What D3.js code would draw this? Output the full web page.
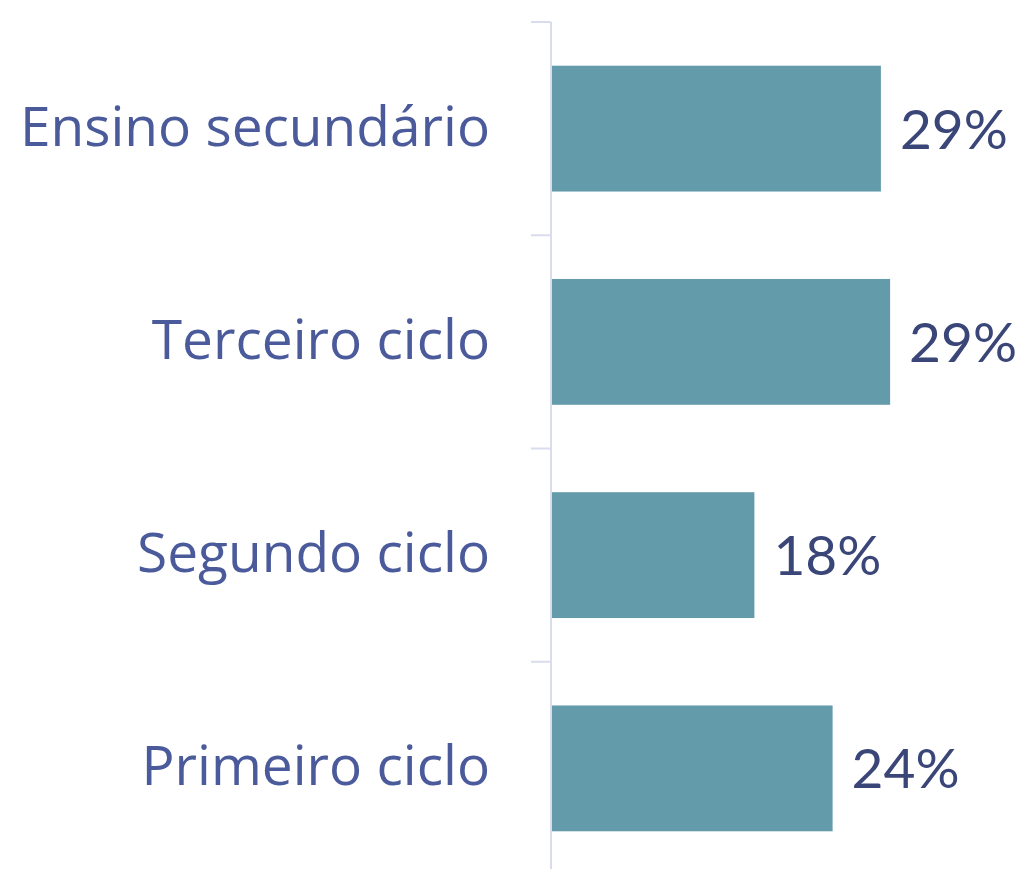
<!DOCTYPE html>
<html lang="pt">
  <head>
    <meta charset="UTF-8" />
    <title>Chart</title>
    <style>
      body { margin: 0; background: #fff; }
      text { font-family: Lato, "Open Sans", sans-serif; }
      text.cat { font-family: "Open Sans", sans-serif; }
    </style>
  </head>
  <body>
    <div id="app"></div>
    <script src="https://cdn.jsdelivr.net/npm/d3@7"></script>
    <script>
      // dados
      let categories = ["Ensino secundário", "Terceiro ciclo", "Segundo ciclo", "Primeiro ciclo"];
      let values = [0.286, 0.294, 0.176, 0.244];

      let width = 1022;
      let height = 869;

      const svg = d3.select("#app")
        .append("svg")
        .attr("width", width)
        .attr("height", height);

      let x = d3.scaleLinear().domain([0, 0.4]).range([552, 1012]);
      let y = d3.scaleBand()
        .domain(categories)
        .range([22, 875])
        .paddingInner(0.41)
        .paddingOuter(0.205);

      let axisX = 551;
      let bandTop = d => y(d) - y.paddingOuter() * y.step();

      // eixo vertical
      const axis = svg.append("g").attr("stroke", "#d9dbee").attr("stroke-width", 2);
      axis.append("line")
        .attr("x1", axisX).attr("x2", axisX)
        .attr("y1", y.range()[0]).attr("y2", y.range()[1]);
      axis.selectAll("line.tick")
        .data(categories)
        .enter()
        .append("line")
        .attr("class", "tick")
        .attr("x1", axisX - 20).attr("x2", axisX)
        .attr("y1", d => bandTop(d)).attr("y2", d => bandTop(d));

      // barras
      svg.selectAll("rect")
        .data(values)
        .enter()
        .append("rect")
        .attr("x", x(0))
        .attr("y", (d, i) => y(categories[i]))
        .attr("width", d => x(d) - x(0))
        .attr("height", y.bandwidth())
        .attr("fill", "#639bab");

      // rótulos das categorias
      svg.selectAll("text.cat")
        .data(categories)
        .enter()
        .append("text")
        .attr("class", "cat")
        .attr("x", 490)
        .attr("y", d => y(d) + y.bandwidth() / 2 + 17)
        .attr("text-anchor", "end")
        .attr("font-size", 55)
        .attr("fill", "#4a5a9a")
        .text(d => d);

      // rótulos dos valores
      let fmt = d3.format(".0%");
      svg.selectAll("text.val")
        .data(values)
        .enter()
        .append("text")
        .attr("class", "val")
        .attr("x", d => x(d) + 19)
        .attr("y", (d, i) => y(categories[i]) + y.bandwidth() / 2 + 20)
        .attr("font-size", 55)
        .attr("fill", "#3a4578")
        .text(d => fmt(d));
    </script>
  </body>
</html>
